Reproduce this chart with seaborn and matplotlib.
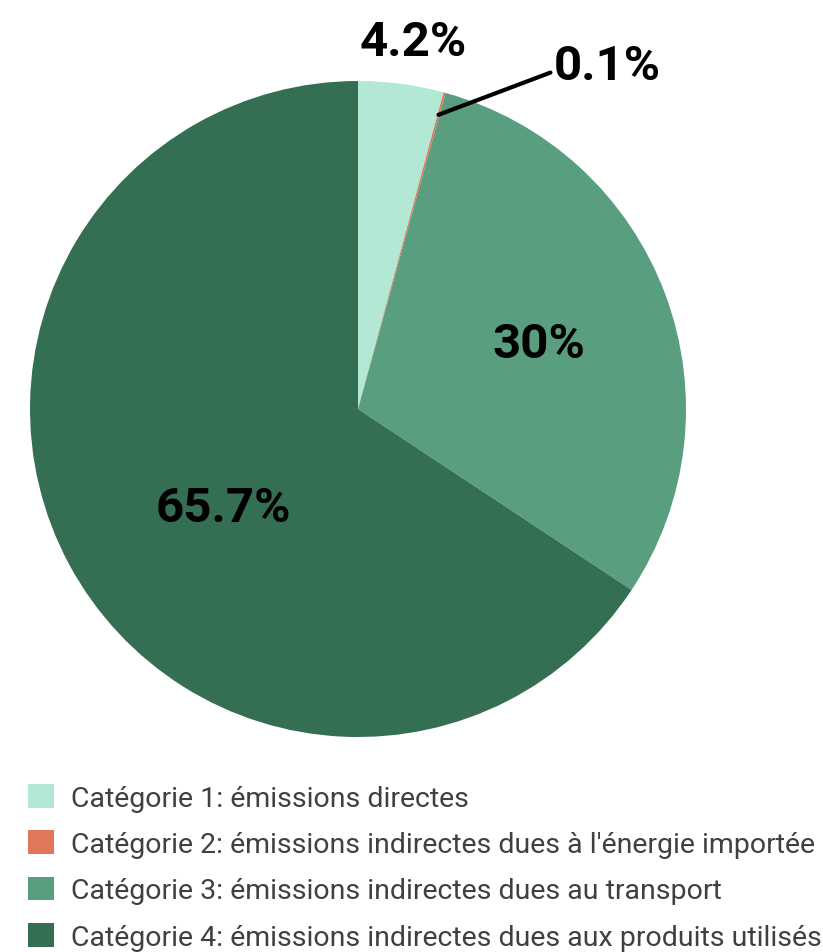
import numpy as np
import matplotlib
matplotlib.use("Agg")
import matplotlib.pyplot as plt
import matplotlib.patches as mpatches
import seaborn as sns

# ── Data ──────────────────────────────────────────────────────────────────
categories = [
    "Catégorie 1: émissions directes",
    "Catégorie 2: émissions indirectes dues à l'énergie importée",
    "Catégorie 3: émissions indirectes dues au transport",
    "Catégorie 4: émissions indirectes dues aux produits utilisés",
]
shares = [4.2, 0.1, 30.0, 65.7]
share_labels = ["4.2%", "0.1%", "30%", "65.7%"]
colors = ["#b3e9d4", "#e0765a", "#5a9e80", "#346e53"]

sns.set_theme(style="white")
plt.rcParams["font.family"] = ["Roboto", "DejaVu Sans"]

fig = plt.figure(figsize=(8.23, 9.53), dpi=100)
ax = fig.add_axes([30 / 823, 1 - 738 / 953, 656 / 823, 656 / 953])

wedges, _ = ax.pie(shares, colors=colors, startangle=90, counterclock=False,
                   radius=1.0, wedgeprops=dict(linewidth=0))
ax.set_xlim(-1, 1)
ax.set_ylim(-1, 1)
ax.set_aspect("equal")
ax.axis("off")


def mid_point(w, r):
    ang = np.deg2rad((w.theta1 + w.theta2) / 2)
    return r * np.cos(ang), r * np.sin(ang)


label_kw = dict(fontsize=35.5, fontweight="bold", color="black",
                ha="center", va="center")

# big slices: inside labels
x, y = mid_point(wedges[2], 0.59)
ax.text(x, y - 0.01, share_labels[2], **label_kw)
x, y = mid_point(wedges[3], 0.51)
ax.text(x + 0.04, y - 0.06, share_labels[3], **label_kw)

# small slices: outside labels
x, y = mid_point(wedges[0], 1.13)
ax.text(x + 0.02, y, share_labels[0], clip_on=False, **label_kw)

x0, y0 = mid_point(wedges[1], 0.93)
ax.annotate(share_labels[1], xy=(x0, y0), xytext=(0.76, 1.045),
            annotation_clip=False, fontsize=35.5, fontweight="bold",
            color="black", ha="center", va="center",
            arrowprops=dict(arrowstyle="-", color="black", lw=3,
                            shrinkA=0, shrinkB=0,
                            relpos=(-0.01, 0.38)))

# ── Legend ────────────────────────────────────────────────────────────────
handles = [mpatches.Patch(facecolor=c, edgecolor="none") for c in colors]
leg = fig.legend(handles, categories, loc="upper left",
                 bbox_to_anchor=(28 / 823, 1 - 785 / 953),
                 frameon=False, fontsize=20.5, handlelength=0.9,
                 handleheight=0.9, handletextpad=0.62, labelspacing=0.66,
                 borderaxespad=0, borderpad=0)
for t in leg.get_texts():
    t.set_color("#404040")

fig.savefig("out.png", dpi=100)
